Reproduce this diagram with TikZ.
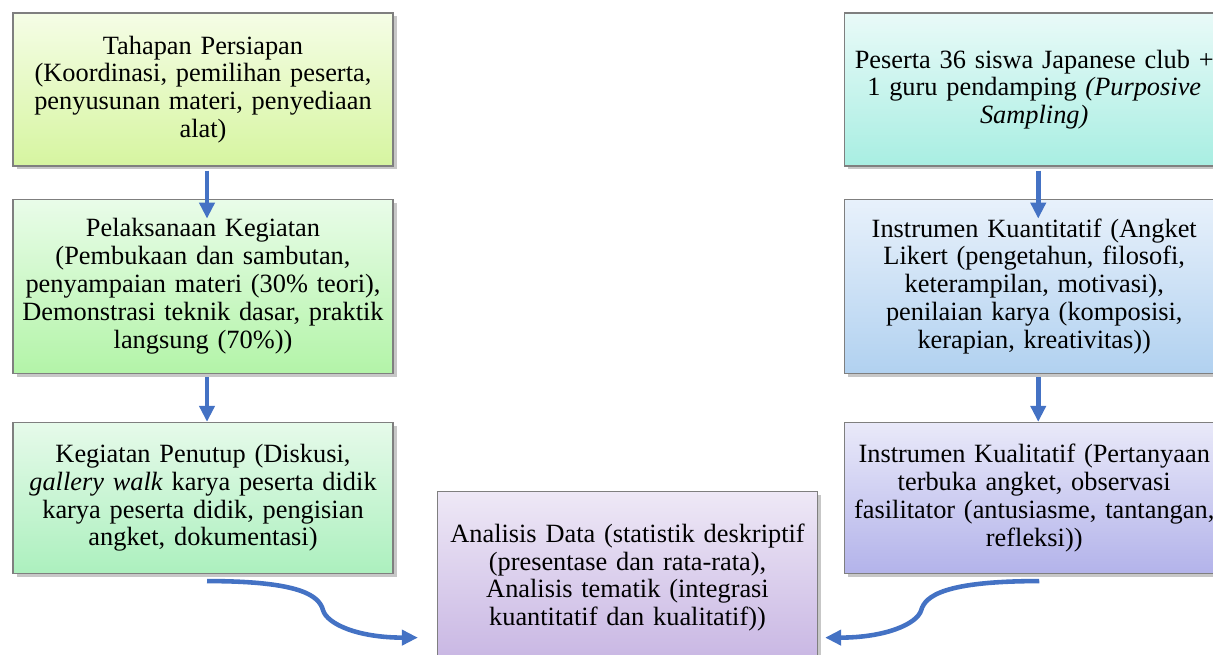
\documentclass[tikz,border=0pt]{standalone}
\usepackage{fontspec}
\setmainfont{Liberation Serif}
\usetikzlibrary{arrows.meta, positioning, shadows}

\definecolor{arrowblue}{HTML}{4472C4}
\definecolor{boxgray}{HTML}{7F7F7F}
\definecolor{prepTop}{HTML}{F5FDE6}
\definecolor{prepBot}{HTML}{D6F5A0}
\definecolor{execTop}{HTML}{E9FCE9}
\definecolor{execBot}{HTML}{B3F4A8}
\definecolor{closeTop}{HTML}{E6FAEA}
\definecolor{closeBot}{HTML}{ACF0BE}
\definecolor{sampleTop}{HTML}{E9FAF8}
\definecolor{sampleBot}{HTML}{A8EEE2}
\definecolor{quantTop}{HTML}{E8F1FB}
\definecolor{quantBot}{HTML}{B1D1F0}
\definecolor{qualTop}{HTML}{E9E9F9}
\definecolor{qualBot}{HTML}{B3B3EA}
\definecolor{anaTop}{HTML}{EEE8F6}
\definecolor{anaBot}{HTML}{C8B6E3}

\begin{document}
\begin{tikzpicture}[
  box/.style={rectangle, draw=boxgray, line width=0.7pt, minimum width=7.6cm, text width=7.4cm, inner xsep=0.1cm, inner ysep=0pt, align=center, font=\fontsize{15}{15.8}\selectfont, drop shadow={shadow xshift=0.07cm, shadow yshift=-0.07cm, fill=black, opacity=0.22}},
  arr/.style={-{Triangle[width=0.3cm, length=0.32cm]}, line width=2.6pt, arrowblue},
  curvearr/.style={-{Triangle[width=0.3cm, length=0.32cm]}, line width=2.6pt, arrowblue}
]
\useasboundingbox (0,0) rectangle (24.26,-13.08);

% Left column: kegiatan
\node[box, minimum height=3.06cm, top color=prepTop, bottom color=prepBot] (prep) at (4.06,-1.79) {Tahapan Persiapan\\(Koordinasi, pemilihan peserta,\\penyusunan materi, penyediaan\\alat)};
\node[box, minimum height=3.48cm, top color=execTop, bottom color=execBot, below=0.64cm of prep] (exec) {Pelaksanaan Kegiatan\\(Pembukaan dan sambutan,\\penyampaian materi (30\% teori),\\Demonstrasi teknik dasar, praktik\\langsung (70\%))};
\node[box, minimum height=3.02cm, top color=closeTop, bottom color=closeBot, below=0.96cm of exec] (close) {Kegiatan Penutup (Diskusi,\\\textit{gallery walk} karya peserta didik\\karya peserta didik, pengisian\\angket, dokumentasi)};

% Right column: instrumen
\node[box, minimum height=3.06cm, top color=sampleTop, bottom color=sampleBot, right=9cm of prep] (sample) {Peserta 36 siswa Japanese club +\\1 guru pendamping \textit{(Purposive}\\\textit{Sampling)}};
\node[box, minimum height=3.48cm, top color=quantTop, bottom color=quantBot, below=0.64cm of sample] (quant) {Instrumen Kuantitatif (Angket\\Likert (pengetahun, filosofi,\\keterampilan, motivasi),\\penilaian karya (komposisi,\\kerapian, kreativitas))};
\node[box, minimum height=3.02cm, top color=qualTop, bottom color=qualBot, below=0.96cm of quant] (qual) {Instrumen Kualitatif (Pertanyaan\\terbuka angket, observasi\\fasilitator (antusiasme, tantangan,\\refleksi))};

% Analisis data
\node[box, minimum height=3.44cm, top color=anaTop, bottom color=anaBot, anchor=north] (analysis) at (12.55,-9.82) {Analisis Data (statistik deskriptif\\(presentase dan rata-rata),\\Analisis tematik (integrasi\\kuantitatif dan kualitatif))};

% Straight arrows
\draw[arr] ([shift={(0.08,-0.08)}]prep.south) -- ([shift={(0.08,-0.4)}]exec.north);
\draw[arr] ([shift={(0.08,-0.06)}]exec.south) -- ([xshift=0.08cm]close.north);
\draw[arr] ([shift={(0.08,-0.08)}]sample.south) -- ([shift={(0.08,-0.4)}]quant.north);
\draw[arr] ([shift={(0.08,-0.06)}]quant.south) -- ([xshift=0.08cm]qual.north);

% Curved arrows into analysis
\coordinate (outL) at ([shift={(0.08,-0.14)}]close.south);
\coordinate (midL) at ([shift={(2.32,-0.58)}]outL);
\coordinate (inL) at ([shift={(-0.38,-1.2)}]analysis.west);
\coordinate (outR) at ([shift={(0.1,-0.14)}]qual.south);
\coordinate (midR) at ([shift={(-2.36,-0.58)}]outR);
\coordinate (inR) at ([shift={(0.14,-1.2)}]analysis.east);
\draw[curvearr] (outL) .. controls ([xshift=1.9cm]outL) and ([shift={(-0.08,0.28)}]midL) .. (midL) .. controls ([shift={(0.08,-0.28)}]midL) and ([xshift=-1.2cm]inL) .. (inL);
\draw[curvearr] (outR) .. controls ([xshift=-1.9cm]outR) and ([shift={(0.08,0.28)}]midR) .. (midR) .. controls ([shift={(-0.08,-0.28)}]midR) and ([xshift=1.2cm]inR) .. (inR);

\end{tikzpicture}
\end{document}
